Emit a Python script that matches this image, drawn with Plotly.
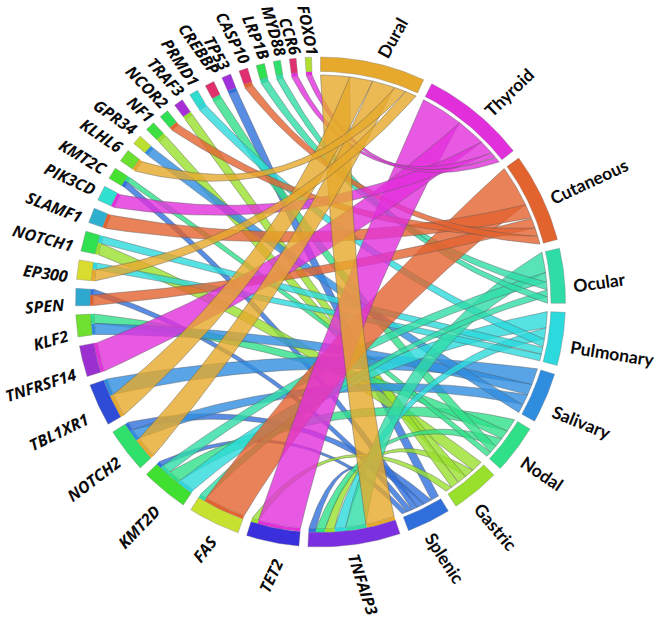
import math
import plotly.graph_objects as go

# ---- data: nodes in clockwise order from the top of the circle ----
sites = ["Dural", "Thyroid", "Cutaneous", "Ocular", "Pulmonary", "Salivary", "Nodal", "Gastric", "Splenic"]
genes = ["TNFAIP3", "TET2", "FAS", "KMT2D", "NOTCH2", "TBL1XR1", "TNFRSF14", "KLF2", "SPEN", "EP300",
         "NOTCH1", "SLAMF1", "PIK3CD", "KMT2C", "KLHL6", "GPR34", "NF1", "NCOR2", "TRAF3", "PRMD1",
         "CREBBP", "TP53", "CASP10", "LRP1B", "MYD88", "CCR6", "FOXO1"]

# ---- data: link weights for each site (gene list + values) ----
dural_genes = ["TNFAIP3", "TBL1XR1", "NOTCH2", "KLHL6", "EP300"]
dural_values = [7.4, 5.9, 5.7, 3.0, 2.9]
thyroid_genes = ["TET2", "TNFRSF14", "PIK3CD", "CCR6", "FOXO1"]
thyroid_values = [10.8, 7.4, 3.6, 1.6, 1.5]
cutaneous_genes = ["FAS", "SLAMF1", "SPEN", "NCOR2", "CASP10"]
cutaneous_values = [10.6, 3.6, 2.7, 2.2, 2.1]
ocular_genes = ["TNFAIP3", "KMT2D", "LRP1B", "FAS", "MYD88"]
ocular_values = [5.2, 2.4, 2.0, 1.7, 1.7]
pulmonary_genes = ["KMT2D", "TNFAIP3", "PRMD1", "NOTCH1", "EP300"]
pulmonary_values = [4.1, 2.8, 2.1, 1.9, 1.7]
salivary_genes = ["TBL1XR1", "KLF2", "NOTCH2", "GPR34"]
salivary_values = [4.2, 2.8, 2.7, 2.3]
nodal_genes = ["KMT2D", "KLF2", "TNFAIP3", "CREBBP", "KMT2C"]
nodal_values = [3.4, 2.4, 2.3, 2.2, 1.3]
gastric_genes = ["NOTCH1", "TNFAIP3", "NF1", "TRAF3", "TET2"]
gastric_values = [2.9, 2.4, 2.3, 2.2, 1.7]
splenic_genes = ["TP53", "NOTCH2", "TNFAIP3", "KMT2C", "SPEN", "KMT2D"]
splenic_values = [2.2, 2.2, 1.8, 1.5, 1.4, 1.3]

site_links = {
    "Dural": (dural_genes, dural_values), "Thyroid": (thyroid_genes, thyroid_values),
    "Cutaneous": (cutaneous_genes, cutaneous_values), "Ocular": (ocular_genes, ocular_values),
    "Pulmonary": (pulmonary_genes, pulmonary_values), "Salivary": (salivary_genes, salivary_values),
    "Nodal": (nodal_genes, nodal_values), "Gastric": (gastric_genes, gastric_values),
    "Splenic": (splenic_genes, splenic_values),
}

# ---- styling ----
colors = {
    "Dural": "#E6A92B", "Thyroid": "#E22FDC", "Cutaneous": "#E3632F", "Ocular": "#2FDCA8",
    "Pulmonary": "#2CD9DC", "Salivary": "#2F8DE0", "Nodal": "#2FE088", "Gastric": "#98E02C",
    "Splenic": "#2F6FDC", "TNFAIP3": "#7B2FE0", "TET2": "#3A2FDC", "FAS": "#C8E02F",
    "KMT2D": "#3FE02F", "NOTCH2": "#2FE06A", "TBL1XR1": "#2F4CD8", "TNFRSF14": "#9B2FD0",
    "KLF2": "#6FE02F", "SPEN": "#2FA8D0", "EP300": "#D9DC2F", "NOTCH1": "#2FE050",
    "SLAMF1": "#2FB0D0", "PIK3CD": "#2FDFD0", "KMT2C": "#45E030", "KLHL6": "#6CE02F",
    "GPR34": "#BBE02F", "NF1": "#3CE040", "NCOR2": "#2FE055", "TRAF3": "#A82FD8",
    "PRMD1": "#2FDCD0", "CREBBP": "#E02F6A", "TP53": "#A02FDC", "CASP10": "#E02F70",
    "LRP1B": "#2FE050", "MYD88": "#2FE070", "CCR6": "#E02F70", "FOXO1": "#B0E02F",
}
# label placement: centre x, centre y, rotation
label_place = {
    "Dural": (392, 38, -61), "Thyroid": (509, 92, -44), "Cutaneous": (589, 181, -25), "Ocular": (599, 282, -8),
    "Pulmonary": (612, 353, 9), "Salivary": (582, 422, 22), "Nodal": (542, 473, 34), "Gastric": (496, 527, 50),
    "Splenic": (445, 558, 57), "TNFAIP3": (363, 584, 72), "TET2": (271, 576, -65), "FAS": (205, 549, -52),
    "KMT2D": (139, 527, -46), "NOTCH2": (94, 479, -37), "TBL1XR1": (59, 432, -26), "TNFRSF14": (41, 385, -18),
    "KLF2": (51, 340, -16), "SPEN": (45, 306, -5), "EP300": (45, 273, 8), "NOTCH1": (43, 238, 15),
    "SLAMF1": (54, 207, 21), "PIK3CD": (70, 179, 25), "KMT2C": (83, 157, 31), "KLHL6": (102, 136, 34),
    "GPR34": (115, 117, 35), "NF1": (140, 109, 43), "NCOR2": (147, 87, 46), "TRAF3": (166, 77, 48),
    "PRMD1": (180, 62, 56), "CREBBP": (199, 49, 55), "TP53": (217, 53, 61), "CASP10": (233, 38, 63),
    "LRP1B": (256, 37, 68), "MYD88": (274, 31, 74), "CCR6": (290, 36, 72), "FOXO1": (308, 30, 79),
}
CX, CY = 320.5, 302.0
R_OUT, R_IN, R_STRIP = 245.0, 230.5, 227.0
EDGE = "rgba(90,90,90,0.55)"


def rgba(hex_color, a):
    h = hex_color.lstrip("#")
    return f"rgba({int(h[0:2],16)},{int(h[2:4],16)},{int(h[4:6],16)},{a})"


def pt(angle, r):
    t = math.radians(angle)
    return CX + r * math.sin(t), CY - r * math.cos(t)


def arc(a0, a1, r, n=24):
    return [pt(a0 + (a1 - a0) * i / n, r) for i in range(n + 1)]


def edge(a0, a1, r, n=60):
    p0, p1 = pt(a0, r), pt(a1, r)
    d = (a1 - a0 + 180) % 360 - 180
    mid = a0 + d / 2
    c = pt(mid, 0.53 * r * math.cos(math.radians(abs(d)) / 2))
    out = []
    for i in range(n + 1):
        s = i / n
        out.append(((1 - s) ** 2 * p0[0] + 2 * s * (1 - s) * c[0] + s * s * p1[0],
                    (1 - s) ** 2 * p0[1] + 2 * s * (1 - s) * c[1] + s * s * p1[1]))
    return out


# ---- layout of the circle computed from the weights ----
links = []
for s in sites:
    for g, v in zip(*site_links[s]):
        links.append({"site": s, "gene": g, "v": v})
nodes = sites + genes
totals = {n: 0.0 for n in nodes}
for l in links:
    totals[l["site"]] += l["v"]
    totals[l["gene"]] += l["v"]
gap = (360.0 - sum(totals.values())) / len(nodes)
starts, pos = {}, 0.0
for n in nodes:
    starts[n] = pos
    pos += totals[n] + gap

# inside each node the links run clockwise from largest to smallest
for key in ("site", "gene"):
    for n in (sites if key == "site" else genes):
        cur = starts[n]
        for l in sorted([x for x in links if x[key] == n], key=lambda x: -x["v"]):
            l[key + "_a"] = (cur, cur + l["v"])
            cur += l["v"]

fig = go.Figure()


def poly(points, fill, line=EDGE, width=0.8):
    xs = [p[0] for p in points] + [points[0][0]]
    ys = [p[1] for p in points] + [points[0][1]]
    fig.add_trace(go.Scatter(x=xs, y=ys, mode="lines", fill="toself", fillcolor=fill,
                             line=dict(color=line, width=width), hoverinfo="skip", showlegend=False))


for s in reversed(sites):
    for l in [x for x in links if x["site"] == s]:
        a0, a1 = l["gene_a"]
        b0, b1 = l["site_a"]
        path = arc(a0, a1, R_STRIP, 8) + edge(a1, b0, R_STRIP) + arc(b0, b1, R_STRIP, 16) + edge(b1, a0, R_STRIP)
        poly(path, rgba(colors[s], 0.8))

for l in links:
    a0, a1 = l["gene_a"]
    poly(arc(a0, a1, R_IN, 8) + arc(a1, a0, R_STRIP, 8), colors[l["site"]], line=rgba(colors[l["site"]], 0.5), width=0.3)

for n in nodes:
    a0 = starts[n]
    a1 = a0 + totals[n]
    poly(arc(a0, a1, R_OUT) + arc(a1, a0, R_IN), colors[n], line="rgba(120,120,120,0.5)", width=0.7)

annotations = []
for n in nodes:
    x, y, rot = label_place[n]
    is_gene = n in genes
    annotations.append(dict(x=x, y=y, xref="x", yref="y", text=f"<b><i>{n}</i></b>" if is_gene else f"<b>{n}</b>",
                            showarrow=False, textangle=rot, xanchor="center", yanchor="middle",
                            font=dict(family="Open Sans" if is_gene else "Lato", size=16 if is_gene else 17.5,
                                      color="#0a0a0a")))

fig.update_layout(
    width=657, height=619, margin=dict(l=0, r=0, t=0, b=0),
    paper_bgcolor="white", plot_bgcolor="white", showlegend=False, annotations=annotations,
    xaxis=dict(range=[0, 657], visible=False, fixedrange=True),
    yaxis=dict(range=[619, 0], visible=False, fixedrange=True),
)
fig.write_html("out.html", config={"displayModeBar": False},
               post_script="document.body.style.margin='0';")
